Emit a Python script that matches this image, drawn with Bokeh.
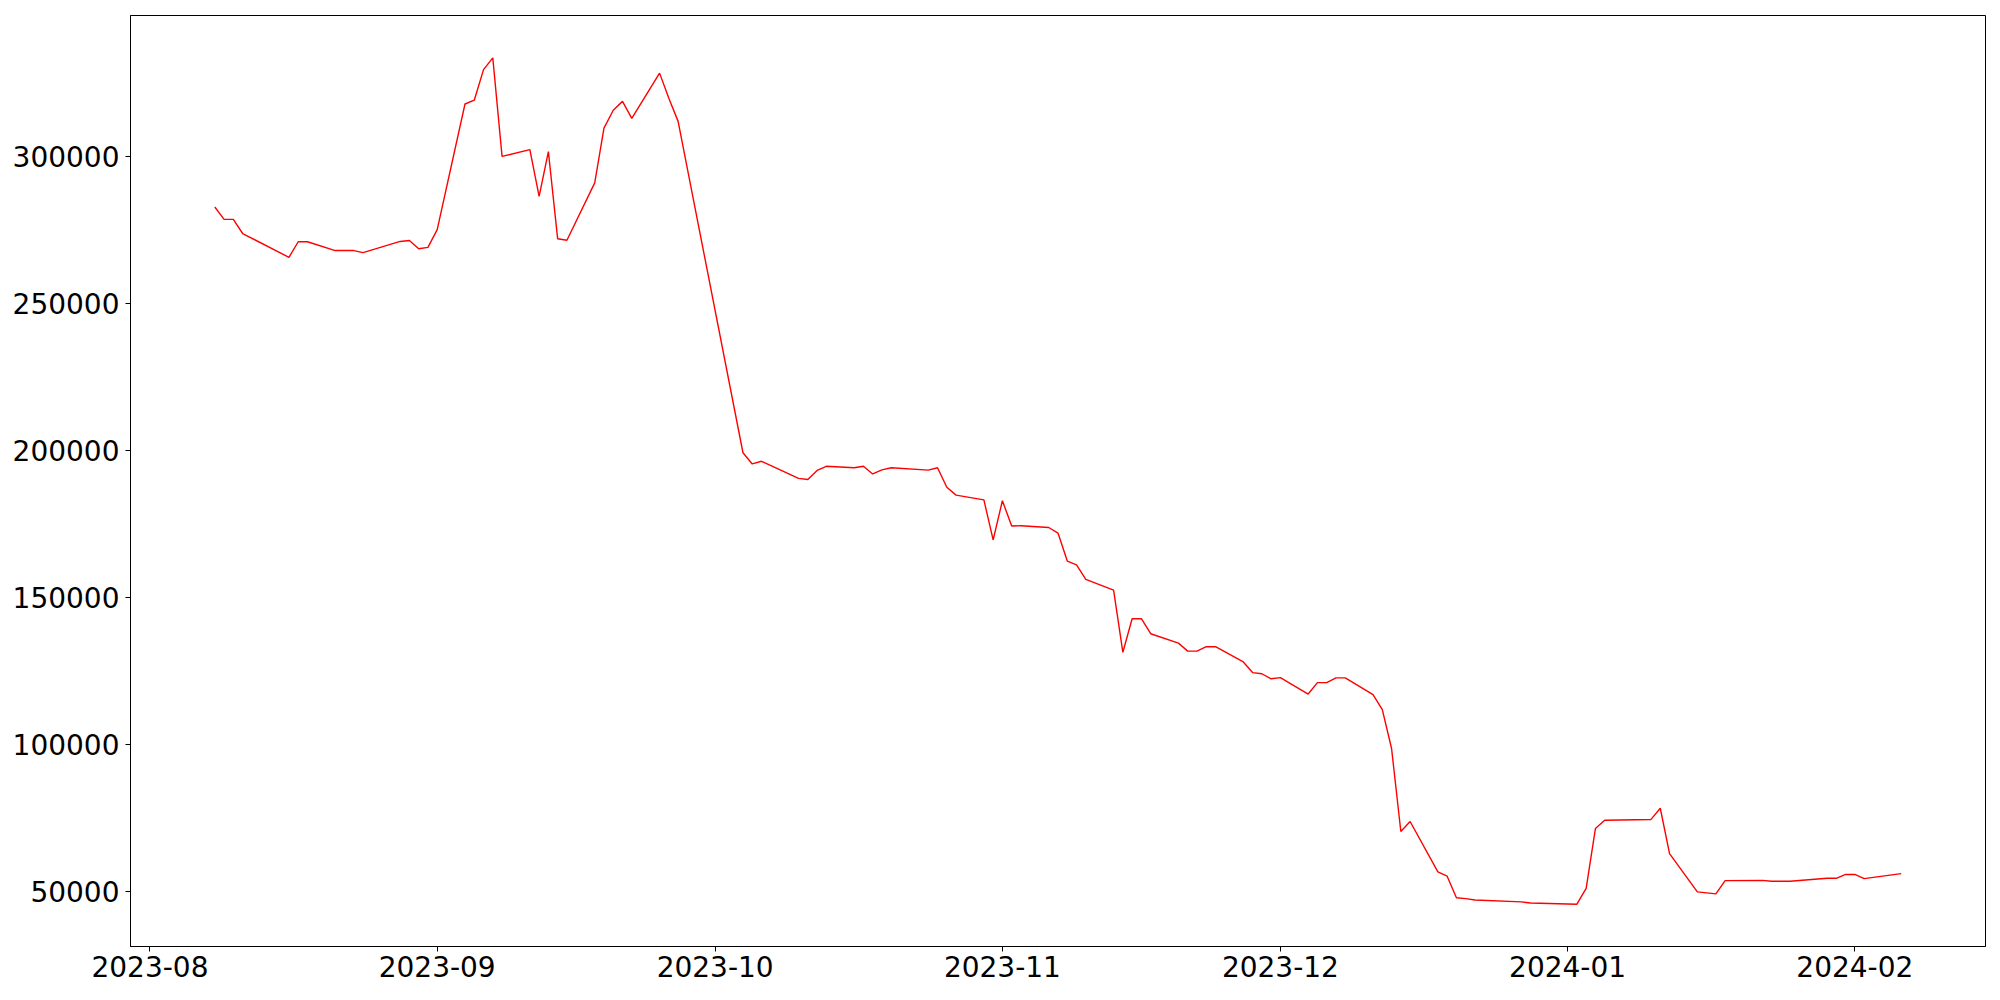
import pandas as pd
from bokeh.plotting import figure
from bokeh.models import Range1d, FixedTicker, DatetimeTickFormatter, NumeralTickFormatter, ColumnDataSource
from bokeh.embed import file_html
from bokeh.resources import INLINE

# ---- data ----
dates = [
    "2023-08-08", "2023-08-09", "2023-08-10", "2023-08-11", "2023-08-16", "2023-08-17", "2023-08-18",
    "2023-08-21", "2023-08-22", "2023-08-23", "2023-08-24", "2023-08-28", "2023-08-29", "2023-08-30",
    "2023-08-31", "2023-09-01", "2023-09-04", "2023-09-05", "2023-09-06", "2023-09-07", "2023-09-08",
    "2023-09-11", "2023-09-12", "2023-09-13", "2023-09-14", "2023-09-15", "2023-09-18", "2023-09-19",
    "2023-09-20", "2023-09-21", "2023-09-22", "2023-09-25", "2023-09-26", "2023-09-27", "2023-10-04",
    "2023-10-05", "2023-10-06", "2023-10-10", "2023-10-11", "2023-10-12", "2023-10-13", "2023-10-16",
    "2023-10-17", "2023-10-18", "2023-10-19", "2023-10-20", "2023-10-24", "2023-10-25", "2023-10-26",
    "2023-10-27", "2023-10-30", "2023-10-31", "2023-11-01", "2023-11-02", "2023-11-03", "2023-11-06",
    "2023-11-07", "2023-11-08", "2023-11-09", "2023-11-10", "2023-11-13", "2023-11-14", "2023-11-15",
    "2023-11-16", "2023-11-17", "2023-11-20", "2023-11-21", "2023-11-22", "2023-11-23", "2023-11-24",
    "2023-11-27", "2023-11-28", "2023-11-29", "2023-11-30", "2023-12-01", "2023-12-04", "2023-12-05",
    "2023-12-06", "2023-12-07", "2023-12-08", "2023-12-11", "2023-12-12", "2023-12-13", "2023-12-14",
    "2023-12-15", "2023-12-18", "2023-12-19", "2023-12-20", "2023-12-21", "2023-12-22", "2023-12-27",
    "2023-12-28", "2024-01-02", "2024-01-03", "2024-01-04", "2024-01-05", "2024-01-10", "2024-01-11",
    "2024-01-12", "2024-01-15", "2024-01-17", "2024-01-18", "2024-01-22", "2024-01-23", "2024-01-25",
    "2024-01-29", "2024-01-30", "2024-01-31", "2024-02-01", "2024-02-02", "2024-02-06",
]
values = [
    282700, 278500, 278500, 273700, 265600, 270900, 270900,
    267900, 267900, 267900, 267200, 271000, 271300, 268500,
    269000, 275000, 317700, 319000, 329400, 333400, 299900,
    302200, 286300, 301500, 271900, 271400, 290900, 309500,
    315600, 318600, 312800, 328200, 319700, 311800, 199200,
    195400, 196300, 190500, 190100, 193200, 194600, 194100,
    194600, 192000, 193400, 194100, 193300, 194100, 187500,
    184800, 183200, 169600, 182900, 174300, 174400, 173800,
    171900, 162400, 161100, 156200, 152500, 131400, 142800,
    142800, 137700, 134500, 131800, 131800, 133300, 133300,
    128100, 124500, 124100, 122400, 122800, 117200, 121100,
    121100, 122700, 122700, 117000, 111900, 98700, 70500,
    73900, 56800, 55300, 48000, 47700, 47200, 46600,
    46200, 45800, 51200, 71500, 74300, 74600, 78400,
    63000, 50000, 49300, 53800, 53900, 53600, 53600,
    54600, 54600, 55900, 55900, 54500, 56200,
]
x_tick_dates = ["2023-08-01", "2023-09-01", "2023-10-01", "2023-11-01", "2023-12-01", "2024-01-01", "2024-02-01"]
y_ticks = [50000, 100000, 150000, 200000, 250000, 300000]

# ---- build ----
x = pd.to_datetime(dates)
source = ColumnDataSource(data=dict(x=x, y=values))

xmin, xmax = x.min(), x.max()
xspan = xmax - xmin
ymin, ymax = min(values), max(values)
yspan = ymax - ymin

p = figure(width=1995, height=990, x_axis_type="datetime", output_backend="svg",
           toolbar_location=None, tools="",
           x_range=Range1d(xmin - 0.05 * xspan, xmax + 0.05 * xspan),
           y_range=Range1d(ymin - 0.05 * yspan, ymax + 0.05 * yspan),
           min_border_left=130, min_border_right=10, min_border_top=15, min_border_bottom=44)

p.line("x", "y", source=source, line_color="red", line_width=1.4)

p.grid.visible = False
p.outline_line_color = "black"
p.outline_line_alpha = 1.0
p.outline_line_width = 1
p.background_fill_color = "white"
p.border_fill_color = "white"

tick_ms = [pd.Timestamp(d).value / 1e6 for d in x_tick_dates]
p.xaxis.ticker = FixedTicker(ticks=tick_ms)
p.xaxis.formatter = DatetimeTickFormatter(months="%Y-%m", days="%Y-%m", hours="%Y-%m", years="%Y-%m")
p.yaxis.ticker = FixedTicker(ticks=y_ticks)
p.yaxis.formatter = NumeralTickFormatter(format="0")

for ax in (p.xaxis[0], p.yaxis[0]):
    ax.axis_line_color = "black"
    ax.axis_line_width = 1
    ax.major_tick_line_color = "black"
    ax.major_tick_line_width = 1
    ax.major_tick_in = 0
    ax.major_tick_out = 5
    ax.minor_tick_line_color = None
    ax.major_label_text_font = "DejaVu Sans"
    ax.major_label_text_font_size = "28px"
    ax.major_label_text_color = "black"

p.yaxis[0].major_label_standoff = 6
p.xaxis[0].major_label_standoff = 4

open("out.html", "w").write(file_html(p, INLINE))
